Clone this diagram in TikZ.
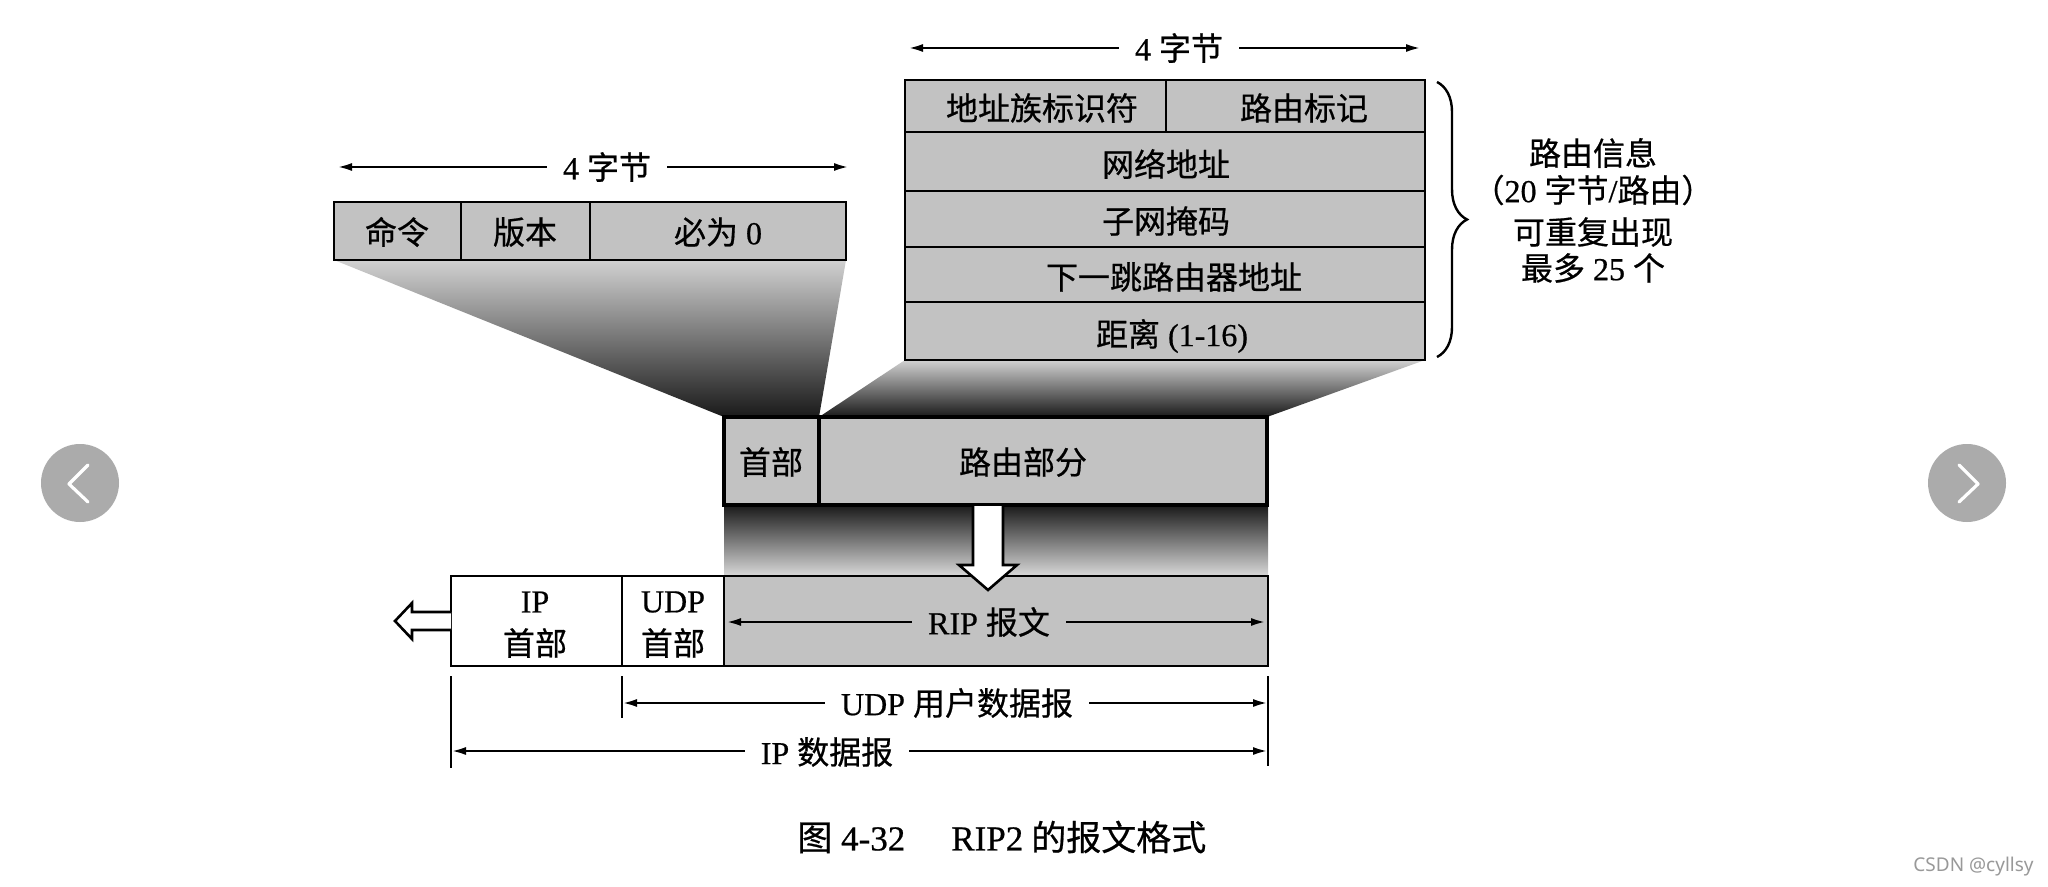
\documentclass[tikz,border=0pt]{standalone}
\usepackage{fontspec}
\setmainfont[FakeBold=0.6]{Liberation Serif}
\newfontfamily\cjkfont[FakeBold=0.6]{Noto Sans CJK SC}
\newfontfamily\uifont{Noto Sans}
\usetikzlibrary{arrows.meta,decorations.pathreplacing}
\newcommand{\zht}[1]{{\cjkfont #1}}
\definecolor{boxgray}{gray}{0.76}
\definecolor{navgray}{HTML}{ABABAB}
\definecolor{markgray}{HTML}{999999}
\begin{document}
\begin{tikzpicture}[x=0.5pt,y=-0.5pt,
  every node/.style={font=\fontsize{16pt}{19pt}\selectfont, inner sep=0pt},
  frame/.style={line width=1.3pt},
  thickframe/.style={line width=2pt},
  cellfill/.style={fill=boxgray},
  dim/.style={line width=1.3pt, {Latex[length=7.5pt,width=4pt]}-{Latex[length=7.5pt,width=4pt]}},
  gapw/.style={fill=white, inner xsep=8pt, inner ysep=2pt},
  gapg/.style={fill=boxgray, inner xsep=8pt, inner ysep=2pt},
  tickline/.style={line width=1pt},
  hollow/.style={line width=1.3pt, line join=miter},
  navchev/.style={white, line width=1.6pt, line cap=round, line join=round},
]
\useasboundingbox (0,0) rectangle (2048,887);
\fill[white] (0,0) rectangle (2048,887);

% ---------- projection shades ----------
\shade[top color=black!18, bottom color=black!90]
  (334,260) -- (846,260) -- (819,417) -- (724,417) -- cycle;
\shade[top color=black!18, bottom color=black!90]
  (905,360) -- (1425,360) -- (1267,417) -- (819,417) -- cycle;
\shade[top color=black!90, bottom color=black!15]
  (724,505) rectangle (1268,576);

% ---------- RIP header (4 bytes) ----------
\coordinate (tlL) at (337,167);
\coordinate (tlR) at (849,167);
\draw[dim] (tlL) -- (tlR);
\node[gapw] (tlw) at (607,167) {4 \zht{字节}};

\filldraw[frame, cellfill] (334,202) rectangle (846,260);
\draw[frame] (461,202) -- (461,260);
\draw[frame] (590,202) -- (590,260);
\node (cmd) at (397,232) {\zht{命令}};
\node (ver) at (525,232) {\zht{版本}};
\node (zero) at (718,232) {\zht{必为} 0};

% ---------- route entry (4 bytes) ----------
\coordinate (trL) at (908,48);
\coordinate (trR) at (1421,48);
\draw[dim] (trL) -- (trR);
\node[gapw] (trw) at (1179,48) {4 \zht{字节}};

\filldraw[frame, cellfill] (905,80) rectangle (1425,360);
\draw[frame] (1166,80) -- (1166,132);
\draw[frame] (905,132) -- (1425,132);
\draw[frame] (905,191) -- (1425,191);
\draw[frame] (905,247) -- (1425,247);
\draw[frame] (905,302) -- (1425,302);
\node (afi) at (1042,108) {\zht{地址族标识符}};
\node (tag) at (1304,108) {\zht{路由标记}};
\node (net) at (1166,164) {\zht{网络地址}};
\node (mask) at (1166,221) {\zht{子网掩码}};
\node (nexthop) at (1174,277) {\zht{下一跳路由器地址}};
\node (dist) at (1172,336) {\zht{距离} (1-16)};

% brace
\coordinate (brT) at (1437,82);
\coordinate (brB) at (1437,357);
\draw[decorate, decoration={brace, amplitude=15pt}, line width=1.2pt] (brT) -- (brB);
\node (ri1) at (1593,153) {\zht{路由信息}};
\node (ri2) at (1593,190) {\zht{（}20 \zht{字节}/\zht{路由）}};
\node (ri3) at (1593,232) {\zht{可重复出现}};
\node (ri4) at (1593,268) {\zht{最多} 25 \zht{个}};

% ---------- RIP message ----------
\filldraw[thickframe, cellfill] (724,417) rectangle (1267,505);
\draw[thickframe] (819,417) -- (819,505);
\node (hdr) at (771,462) {\zht{首部}};
\node (routes) at (1023,462) {\zht{路由部分}};

% ---------- IP datagram ----------
\fill[cellfill] (724,576) rectangle (1268,666);
\draw[frame] (451,576) rectangle (1268,666);
\draw[frame] (622,576) -- (622,666);
\draw[frame] (724,576) -- (724,666);
\node (ip1) at (535,602) {IP};
\node (ip2) at (535,643) {\zht{首部}};
\node (udp1) at (673,602) {UDP};
\node (udp2) at (673,643) {\zht{首部}};
\coordinate (ripL) at (726,622);
\coordinate (ripR) at (1266,622);
\draw[dim] (ripL) -- (ripR);
\node[gapg] (rip) at (989,622) {RIP \zht{报文}};

% white arrow down
\fill[white] (973,506) -- (973,565) -- (959,565) -- (988,590) -- (1017,565) -- (1003,565) -- (1003,506) -- cycle;
\draw[hollow] (973,506) -- (973,565) -- (959,565) -- (988,590) -- (1017,565) -- (1003,565) -- (1003,506);

% white arrow left
\fill[white] (451,612) -- (412,612) -- (412,603) -- (395,621) -- (412,639) -- (412,630) -- (451,630) -- cycle;
\draw[hollow] (451,612) -- (412,612) -- (412,603) -- (395,621) -- (412,639) -- (412,630) -- (451,630);

% ---------- length marks ----------
\draw[tickline] (451,676) -- (451,768);
\draw[tickline] (622,676) -- (622,718);
\draw[tickline] (1268,676) -- (1268,766);
\coordinate (udpL) at (622,703);
\coordinate (udpR) at (1268,703);
\draw[dim] (udpL) -- (udpR);
\node[gapw] (udpd) at (957,703) {UDP \zht{用户数据报}};
\coordinate (ipL) at (451,751);
\coordinate (ipR) at (1268,751);
\draw[dim] (ipL) -- (ipR);
\node[gapw] (ipd) at (827,752) {IP \zht{数据报}};

% ---------- caption ----------
\node[anchor=west, font=\fontsize{17.5pt}{20pt}\selectfont] (cap) at (797,837)
  {\zht{图} 4-32\hspace{23pt}RIP2\hspace{4pt}\zht{的报文格式}};

% ---------- page chrome ----------
\fill[navgray] (80,483) circle[radius=19.5pt];
\draw[navchev] (88,465) -- (69,484) -- (88,502);
\fill[navgray] (1967,483) circle[radius=19.5pt];
\draw[navchev] (1959,465) -- (1978,484) -- (1959,502);
\node[anchor=east, text=markgray, font=\uifont\fontsize{9.5pt}{11pt}\selectfont] (mark) at (2034,867) {CSDN @cyllsy};
\end{tikzpicture}
\end{document}
